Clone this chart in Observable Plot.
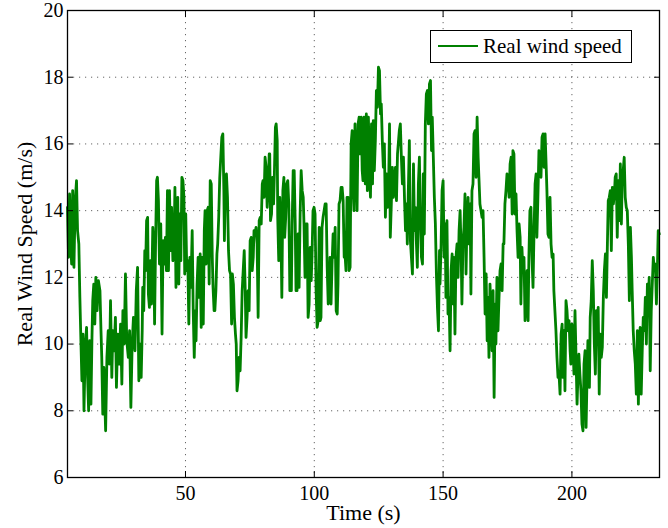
<!DOCTYPE html>
<html><head><meta charset="utf-8">
<script src="https://cdn.jsdelivr.net/npm/d3@7"></script>
<script src="https://cdn.jsdelivr.net/npm/@observablehq/plot@0.6"></script>
<style>
body{margin:0;background:#fff;}
#wrap{position:relative;width:668px;height:528px;}
.legend{position:absolute;left:430px;top:30px;width:202px;height:33px;border:1.3px solid #000;background:#fff;font-family:"Liberation Serif",serif;font-size:21px;box-sizing:border-box;}
.legend .sw{position:absolute;left:7px;top:14px;width:40px;height:0;border-top:2.6px solid #008000;}
.legend .tx{position:absolute;left:52px;top:3px;line-height:24px;color:#000;}
</style></head>
<body><div id="wrap"></div>
<script>
const seriesName = "Real wind speed";
const xLabel = "Time (s)";
const yLabel = "Real Wind Speed (m/s)";
const xTicks = [50, 100, 150, 200];
const yTicks = [6, 8, 10, 12, 14, 16, 18, 20];
const xDomain = [4.2, 234];
const yDomain = [6, 20];

const time = [
4.2,4.6,5.0,5.4,5.8,6.2,6.7,7.2,7.7,8.1,8.6,9.0,9.4,9.8,10.2,10.6,11.1,11.6,12.0,12.4,12.8,13.3,13.7,14.0,14.4,14.8,15.2,15.7,16.2,16.8,17.2,17.5,17.9,18.3,19.0,19.5,20.0,20.5,20.9,21.4,21.8,22.3,22.8,23.2,23.7,24.3,24.8,25.3,25.7,26.2,26.7,27.2,27.8,28.3,28.8,29.3,29.8,30.4,30.9,31.4,31.9,32.4,
32.8,33.2,33.4,33.8,34.2,34.5,34.9,35.3,35.6,36.0,36.4,36.8,37.3,37.7,38.0,38.4,38.8,39.1,39.5,39.9,40.4,40.9,41.3,41.7,42.2,42.6,43.0,43.4,43.8,44.2,44.6,45.1,45.5,45.9,46.3,46.6,47.0,47.4,47.8,48.2,48.6,49.0,49.4,49.7,50.1,50.5,50.9,51.3,51.7,52.1,52.6,53.0,53.4,53.8,54.1,54.5,54.9,55.3,55.7,56.1,56.5,56.9,57.3,57.6,58.0,58.4,58.8,59.2,59.6,60.0,60.4,60.7,61.1,
61.4,61.8,62.2,62.5,62.9,63.3,63.7,64.1,64.5,64.9,65.1,65.5,65.9,66.3,66.7,67.1,67.5,67.9,68.2,68.6,69.0,69.4,69.7,70.0,70.4,70.8,71.2,71.6,72.0,72.4,72.8,73.2,73.5,73.9,74.3,74.7,75.1,75.5,75.9,76.3,76.6,77.0,77.4,77.8,78.2,78.6,79.0,79.4,79.8,80.1,80.5,80.9,81.3,81.7,82.1,82.5,82.7,83.0,83.4,83.8,84.2,84.5,84.9,85.2,85.6,85.8,86.2,86.6,87.0,87.4,87.8,88.2,88.5,88.9,89.3,89.7,90.1,90.5,
91.1,91.4,91.8,92.2,92.6,92.9,93.3,93.7,94.1,94.5,94.9,95.3,95.7,96.0,96.4,96.8,97.2,97.6,98.0,98.4,98.8,99.1,99.5,99.9,100.3,100.7,101.1,101.5,101.9,102.3,102.6,103.0,103.4,103.8,104.2,104.6,105.0,105.4,105.7,106.1,106.5,106.9,107.3,107.7,108.1,108.5,108.9,109.2,109.6,110.0,110.4,110.8,111.2,111.6,112.0,112.3,112.7,113.1,113.5,113.9,114.3,114.7,115.1,115.4,115.8,116.2,116.6,117.0,117.4,117.8,118.2,118.6,118.9,119.3,
119.5,119.8,120.2,120.6,121.0,121.4,121.8,122.2,122.6,122.9,123.3,123.7,124.1,124.5,124.9,125.3,125.7,126.0,126.4,126.8,127.2,127.6,128.0,128.4,128.8,129.2,129.5,129.9,130.3,130.7,131.1,131.5,131.9,132.3,132.6,133.0,133.4,133.8,134.2,134.6,135.0,135.4,135.8,136.1,136.5,136.9,137.3,137.7,138.1,138.5,138.9,139.2,139.6,140.0,140.4,140.8,141.2,141.6,142.0,142.3,142.7,143.1,143.5,143.9,144.3,144.7,145.1,145.5,145.8,146.2,146.6,147.0,147.4,147.8,148.2,148.6,
148.8,149.2,149.6,150.0,150.4,150.8,151.1,151.5,151.9,152.3,152.7,153.1,153.5,153.9,154.2,154.6,155.0,155.4,155.8,156.2,156.6,157.0,157.3,157.7,158.1,158.5,158.9,159.3,159.7,160.1,160.5,160.8,161.2,161.6,162.0,162.4,162.8,163.2,163.6,163.9,164.3,164.7,165.1,165.5,165.9,166.3,166.7,167.1,167.4,167.8,168.2,168.6,169.0,169.4,169.8,170.2,170.5,170.9,171.3,171.7,172.1,172.5,172.9,173.3,173.6,174.0,174.4,174.8,175.2,175.6,176.0,176.4,176.8,177.1,177.5,
177.9,178.3,178.7,179.1,179.5,179.9,180.2,180.6,181.0,181.4,181.8,182.2,182.6,183.0,183.3,183.7,184.1,184.5,184.9,185.3,185.7,186.1,186.4,186.8,187.2,187.6,188.0,188.4,188.8,189.2,189.6,189.9,190.3,190.7,191.1,191.5,191.9,192.3,192.7,193.0,193.4,193.8,194.2,194.6,195.0,195.4,195.8,196.2,196.5,196.9,197.3,197.7,198.1,198.5,198.9,199.3,199.6,200.0,200.4,200.8,201.2,201.6,202.0,202.4,202.7,203.1,203.5,203.9,204.3,204.7,205.1,205.5,205.9,206.2,206.6,
206.8,207.1,207.5,207.9,208.3,208.7,209.1,209.5,209.9,210.2,210.6,211.0,211.4,211.8,212.2,212.6,213.0,213.4,213.7,214.1,214.5,214.9,215.3,215.7,216.1,216.5,216.8,217.2,217.6,218.0,218.4,218.8,219.2,219.6,219.9,220.3,220.7,221.1,221.5,221.9,222.3,222.7,223.1,223.4,223.8,224.2,224.6,225.0,225.4,225.8,226.2,226.5,226.9,227.3,227.7,228.1,228.5,228.9,229.3,229.6,230.0,230.4,230.8,231.2,231.6,232.0,232.4,232.8,233.1,233.5,233.9
];

const speed = [
14.1,12.6,14.5,13.1,12.4,14.6,12.3,14.3,14.9,13.4,13.0,11.4,10.1,8.9,10.3,8.0,9.9,10.5,9.0,8.0,10.1,8.2,10.2,11.3,11.8,10.6,12.0,11.0,11.9,11.6,10.4,9.6,7.9,9.3,7.4,9.6,10.4,9.4,11.3,9.0,10.4,9.8,10.8,8.7,10.3,9.4,10.6,8.8,11.0,10.0,12.1,10.1,9.6,10.4,8.1,10.0,10.8,9.8,11.6,12.3,8.9,10.0,
9.0,10.4,11.7,11.0,12.8,12.2,13.7,13.8,11.5,11.1,12.5,11.2,13.5,12.8,10.6,13.1,14.9,15.0,14.3,12.4,13.6,10.3,13.1,12.4,13.2,12.2,14.6,12.2,14.6,12.8,14.1,12.5,12.7,14.7,11.7,12.4,14.4,11.8,13.9,12.5,15.0,14.9,14.4,12.1,13.9,12.2,12.5,10.6,12.6,11.7,13.4,11.0,9.6,11.0,10.1,11.8,12.6,11.4,12.7,10.5,12.6,10.6,13.4,14.0,12.4,14.0,14.1,11.8,14.9,14.8,12.6,11.7,11.0,
11.0,11.6,12.7,13.0,13.8,15.0,15.6,16.2,16.3,14.6,13.1,15.0,15.1,14.4,12.8,12.2,12.1,10.6,12.1,11.8,10.8,10.3,10.0,8.6,8.9,9.6,9.2,10.2,11.6,12.2,12.8,11.6,10.2,10.8,11.6,11.0,13.1,13.2,12.2,12.6,13.4,13.3,13.5,13.0,10.8,13.7,13.8,13.6,14.8,14.9,14.4,15.6,15.3,14.1,14.7,15.7,15.7,13.7,13.9,15.0,14.2,15.1,16.5,16.6,16.1,13.8,12.5,14.4,13.6,11.4,14.6,15.0,13.2,13.8,14.8,14.9,14.2,11.6,
11.6,13.6,15.2,15.2,13.6,11.6,11.6,13.3,11.7,13.9,15.2,14.6,14.4,13.6,12.0,13.6,13.6,10.8,11.2,12.9,11.9,12.6,14.0,14.1,13.9,11.6,10.5,10.7,13.5,10.7,10.8,13.5,13.8,14.0,14.2,14.2,12.3,11.2,11.3,12.6,11.2,12.4,13.3,12.6,13.5,11.0,10.9,11.8,14.2,14.3,14.7,14.7,14.3,12.6,12.6,12.2,14.4,14.4,12.2,12.3,16.0,16.4,14.6,14.0,16.6,15.6,14.0,16.6,16.8,15.7,16.8,15.2,14.9,16.8,
16.6,14.8,16.9,14.6,16.8,15.3,14.4,16.6,14.8,16.7,15.2,16.1,17.6,17.1,18.3,18.2,16.9,17.2,16.1,15.3,16.0,13.8,15.1,14.1,14.5,16.6,13.2,14.2,15.3,14.4,14.7,15.3,14.3,15.7,16.0,16.4,16.6,15.6,14.8,15.6,14.4,13.4,14.2,13.0,14.6,16.1,13.1,12.6,12.1,15.4,13.4,14.1,13.1,12.3,14.8,15.6,13.6,12.6,12.4,15.1,13.3,16.6,17.5,17.6,16.6,17.8,17.9,15.8,16.8,15.6,14.4,13.6,12.1,11.1,10.4,12.8,
11.8,12.9,14.6,14.9,12.6,13.6,11.4,13.7,10.9,11.4,9.8,12.2,12.7,11.2,12.6,10.3,12.6,13.0,12.0,13.4,14.0,12.8,11.2,13.0,13.5,14.5,12.1,13.8,14.4,13.0,14.2,11.5,14.6,14.8,16.3,16.4,15.0,16.8,15.6,15.0,14.2,14.0,13.8,14.0,12.6,10.9,12.1,10.1,11.4,9.6,11.8,11.0,9.8,11.6,8.4,11.2,10.0,12.0,10.4,11.4,12.2,12.4,11.6,13.0,13.0,14.2,14.6,15.1,15.0,14.4,15.4,15.6,13.9,15.8,15.7,
13.9,14.5,13.4,12.6,13.6,13.2,11.2,12.9,12.2,12.6,10.7,11.2,12.2,10.7,12.6,14.0,14.1,12.6,11.7,13.4,14.8,15.1,13.2,14.4,15.8,15.6,15.0,16.2,16.3,15.3,16.3,15.6,14.6,13.3,13.2,14.4,13.0,12.6,12.7,11.6,11.0,10.4,9.6,9.0,9.1,8.5,10.3,10.6,9.0,10.4,8.6,11.3,11.0,10.4,10.7,9.8,9.4,10.6,10.0,9.1,11.0,9.6,8.2,9.2,9.7,9.1,8.6,7.6,7.4,9.4,9.8,7.5,9.1,10.1,9.6,
8.7,10.8,11.3,12.5,11.6,10.0,9.1,11.0,10.0,11.1,8.5,10.3,9.6,9.9,11.4,12.2,12.7,11.4,12.7,14.3,14.4,14.6,12.8,14.7,14.2,14.5,15.0,15.1,13.2,14.9,13.7,15.4,13.6,15.2,15.2,15.6,14.4,14.1,14.0,13.0,11.3,13.5,12.6,11.6,10.4,9.8,9.4,8.5,10.4,8.2,10.0,10.5,8.5,9.8,10.8,10.4,11.4,10.0,11.8,11.0,12.0,9.2,11.0,11.8,12.6,12.2,12.4,11.2,12.0,13.4,13.3
];

const data = time.map((t, i) => ({t, v: speed[i]}));
const font = "Liberation Serif, Times New Roman, serif";

const chart = Plot.plot({
  width: 668,
  height: 528,
  marginLeft: 67,
  marginRight: 9,
  marginTop: 10,
  marginBottom: 51,
  style: {fontFamily: font, fontSize: "20px", background: "#fff", color: "#000"},
  x: {domain: xDomain},
  y: {domain: yDomain},
  marks: [
    Plot.gridX(xTicks, {stroke: "#555", strokeOpacity: 0.9, strokeDasharray: "1.2,4.8"}),
    Plot.gridY(yTicks, {stroke: "#555", strokeOpacity: 0.9, strokeDasharray: "1.2,4.8"}),
    Plot.line(data, {x: "t", y: "v", stroke: "#008000", strokeWidth: 2.8, strokeLinejoin: "round"}),
    Plot.frame({stroke: "#000", strokeWidth: 1.3}),
    Plot.axisX(xTicks, {anchor: "bottom", tickSize: -6, tickPadding: 14, label: null, fontSize: 20}),
    Plot.axisX([], {anchor: "bottom", tickSize: 0, label: xLabel, labelAnchor: "center", labelOffset: 42, labelArrow: "none", fontSize: 22}),
    Plot.axisX(xTicks, {anchor: "top", tickSize: -6, tickFormat: () => "", label: null}),
    Plot.axisY(yTicks, {anchor: "left", tickSize: -6, tickPadding: 10, label: null, fontSize: 20}),
    Plot.axisY([], {anchor: "left", tickSize: 0, label: yLabel, labelAnchor: "center", labelOffset: 51, labelArrow: "none", fontSize: 22}),
    Plot.axisY(yTicks, {anchor: "right", tickSize: -6, tickFormat: () => "", label: null})
  ]
});

const wrap = document.getElementById("wrap");
wrap.appendChild(chart);
const legend = document.createElement("div");
legend.className = "legend";
legend.innerHTML = `<div class="sw"></div><div class="tx"></div>`;
legend.querySelector(".tx").textContent = seriesName;
wrap.appendChild(legend);
</script>
</body></html>
